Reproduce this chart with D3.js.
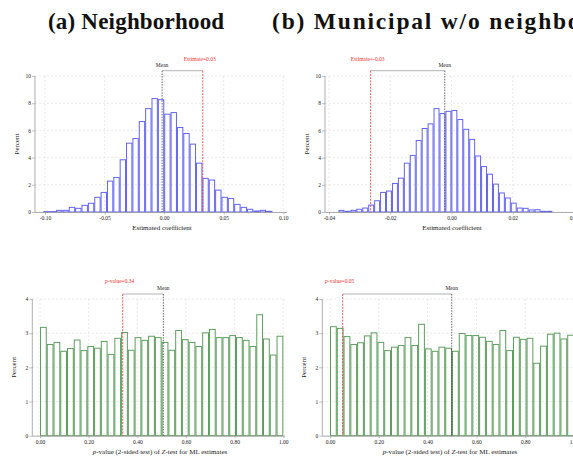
<!DOCTYPE html>
<html><head><meta charset="utf-8">
<script src="https://cdn.jsdelivr.net/npm/d3@7"></script>
<style>body{margin:0;background:#fff}svg{display:block}</style>
</head><body><svg id="c" width="573" height="457"></svg>
<script>
// ---------- DATA ----------
const titles = ["(a) Neighborhood", "(b) Municipal w/o neighborhood"];

// (a) estimated coefficient histogram (percent per bin)
const coefBinStartA = -0.1014, coefBinWidthA = 0.00534;
const coefPercentA = [0.03,0.03,0.12,0.12,0.34,0.27,0.49,0.64,1.08,1.44,2.27,2.54,3.84,5.06,5.40,6.65,7.60,8.34,
  8.26,7.19,7.31,6.21,5.77,4.99,3.59,2.47,2.35,1.61,1.08,1.00,0.56,0.34,0.20,0.07,0.12,0.05];
const coefTicksA = [-0.10,-0.05,0.00,0.05,0.10];
const coefMeanA = -0.0017, coefEstA = 0.0324, coefEstLabelA = "Estimate=0.03";

// (b) estimated coefficient histogram
const coefBinStartB = -0.0369, coefBinWidthB = 0.00194;
const coefPercentB = [0.12,0.05,0.12,0.20,0.29,0.51,0.83,1.44,1.54,2.10,2.49,3.59,4.16,5.26,6.14,6.48,7.60,7.24,
  7.40,7.46,6.80,6.08,5.34,4.12,3.34,2.78,2.05,1.40,1.03,0.65,0.29,0.27,0.15,0.17,0.05,0.05];
const coefTicksB = [-0.04,-0.02,0.00,0.02,0.04];
const coefMeanB = -0.0022, coefEstB = -0.0264, coefEstLabelB = "Estimate=-0.03";

const percentTicksTop = [0,2,4,6,8,10];

// p-value histograms (36 bins on [0,1])
const pBinStart = 0, pBinWidth = 1/36;
const pPercentA = [3.17,2.67,2.73,2.47,2.55,2.80,2.49,2.61,2.56,2.76,2.38,2.85,3.02,2.50,2.87,2.79,2.91,2.87,
  2.73,2.50,3.08,2.81,2.73,2.61,3.01,3.11,2.87,2.87,2.93,2.87,2.79,2.61,3.54,2.83,2.36,2.91];
const pPercentB = [3.19,3.14,2.90,2.67,2.72,2.92,3.01,2.73,2.49,2.59,2.64,2.87,2.64,3.26,2.54,2.47,2.59,2.56,
  2.47,2.99,2.93,2.93,2.88,2.76,2.67,3.08,2.49,2.88,2.82,2.85,2.12,2.62,2.97,3.00,2.83,2.94];
const pTicks = [0.00,0.20,0.40,0.60,0.80,1.00];
const percentTicksBottom = [0,1,2,3,4];
const pMeanA = 0.507, pValA = 0.34, pValLabelA = "p-value=0.34";
const pMeanB = 0.499, pValB = 0.052, pValLabelB = "p-value=0.05";

// ---------- DRAW ----------
const svg = d3.select("#c");
const SERIF = "'Liberation Serif','Times New Roman',serif";

svg.append("text").attr("x",48).attr("y",29).attr("font-family",SERIF)
  .attr("font-weight","bold").attr("font-size",23).attr("letter-spacing",0.2).attr("fill","#111").text(titles[0]);
svg.append("text").attr("x",272).attr("y",29).attr("font-family",SERIF)
  .attr("font-weight","bold").attr("font-size",23.5).attr("letter-spacing",1.8).attr("fill","#111").text(titles[1]);

function panel(cfg){
  const g = svg.append("g");
  const x = d3.scaleLinear().domain(cfg.xDom).range(cfg.xRange);
  const y = d3.scaleLinear().domain(cfg.yDom).range(cfg.yRange);
  const y0 = y(0), yTop = y(cfg.yDom[1]);
  // grid
  g.selectAll(".gy").data(cfg.yTicks).join("line")
    .attr("x1",cfg.axisX).attr("x2",cfg.axisRight).attr("y1",d=>y(d)).attr("y2",d=>y(d))
    .attr("stroke","#e0e0e0").attr("stroke-width",0.7).attr("stroke-dasharray","2,2");
  g.selectAll(".gx").data(cfg.xTicks).join("line")
    .attr("x1",d=>x(d)).attr("x2",d=>x(d)).attr("y1",yTop).attr("y2",y0)
    .attr("stroke","#e0e0e0").attr("stroke-width",0.7).attr("stroke-dasharray","2,2");
  // bars
  g.selectAll(".bar").data(cfg.values).join("rect")
    .attr("x",(d,i)=>x(cfg.binStart+i*cfg.binWidth)+0.5)
    .attr("width",(d,i)=>x(cfg.binStart+(i+1)*cfg.binWidth)-x(cfg.binStart+i*cfg.binWidth)-1)
    .attr("y",d=>y(d)).attr("height",d=>y0-y(d))
    .attr("fill","none").attr("stroke",cfg.color).attr("stroke-width",1);
  // axes
  g.append("line").attr("x1",cfg.axisX).attr("x2",cfg.axisX).attr("y1",yTop).attr("y2",y0)
    .attr("stroke","#999").attr("stroke-width",0.8);
  g.append("line").attr("x1",cfg.axisX).attr("x2",cfg.axisRight).attr("y1",y0+0.5).attr("y2",y0+0.5)
    .attr("stroke","#999").attr("stroke-width",0.8);
  const ay = g.append("g").attr("transform",`translate(${cfg.axisX},0)`)
    .call(d3.axisLeft(y).tickValues(cfg.yTicks).tickSize(3).tickPadding(1).tickFormat(d3.format("d")));
  const ax = g.append("g").attr("transform",`translate(0,${y0+0.5})`)
    .call(d3.axisBottom(x).tickValues(cfg.xTicks).tickSize(2).tickPadding(2).tickFormat(d=>d.toFixed(2)));
  [ay,ax].forEach(a=>{
    a.select(".domain").remove();
    a.selectAll("line").attr("stroke","#999").attr("stroke-width",0.6);
    a.selectAll("text").attr("font-family",SERIF).attr("font-size",5.5).attr("fill","#222");
  });
  // reference lines
  const bY = cfg.bracketY;
  g.append("line").attr("x1",x(cfg.mean)).attr("x2",x(cfg.ref)).attr("y1",bY).attr("y2",bY)
    .attr("stroke","#aaa").attr("stroke-width",0.9);
  g.append("line").attr("x1",x(cfg.mean)).attr("x2",x(cfg.mean)).attr("y1",bY).attr("y2",y0)
    .attr("stroke","#444").attr("stroke-width",0.8).attr("stroke-dasharray","1.5,1.2");
  g.append("line").attr("x1",x(cfg.ref)).attr("x2",x(cfg.ref)).attr("y1",bY).attr("y2",y0)
    .attr("stroke","#f03030").attr("stroke-width",0.8).attr("stroke-dasharray","2,1.2");
  g.append("text").attr("x",x(cfg.mean)).attr("y",cfg.meanLabelY).attr("text-anchor","middle")
    .attr("font-family",SERIF).attr("font-size",5.5).attr("fill","#222").text("Mean");
  const rl = g.append("text").attr("x",x(cfg.ref)-3).attr("y",cfg.refLabelY).attr("text-anchor","middle")
    .attr("font-family",SERIF).attr("font-size",5.5).attr("fill","#f03030");
  if(cfg.italicP){
    rl.append("tspan").attr("font-style","italic").text("p");
    rl.append("tspan").text(cfg.refLabel.slice(1));
  } else rl.text(cfg.refLabel);
  // axis titles
  g.append("text").attr("transform",`translate(${cfg.axisX-16},${(y0+yTop)/2}) rotate(-90)`)
    .attr("text-anchor","middle").attr("font-family",SERIF).attr("font-size",7).attr("fill","#222").text("Percent");
  const xt = g.append("text").attr("x",cfg.xTitleX).attr("y",y0+18).attr("text-anchor","middle")
    .attr("font-family",SERIF).attr("font-size",7).attr("fill","#222");
  if(cfg.italicP){
    xt.append("tspan").attr("font-style","italic").text("p");
    xt.append("tspan").text("-value (2-sided test) of ");
    xt.append("tspan").attr("font-style","italic").text("Z");
    xt.append("tspan").text("-test for ML estimates");
  } else xt.text("Estimated coefficient");
}

panel({xDom:[-0.10,0.10], xRange:[45,283.3], yDom:[0,10], yRange:[212,76], axisX:35, axisRight:287,
  xTicks:coefTicksA, yTicks:percentTicksTop, values:coefPercentA, binStart:coefBinStartA, binWidth:coefBinWidthA,
  color:"#6464f0", mean:coefMeanA, ref:coefEstA, refLabel:coefEstLabelA, bracketY:70.7, meanLabelY:66.5, refLabelY:61,
  xTitleX:162});
panel({xDom:[-0.04,0.04], xRange:[329,574], yDom:[0,10], yRange:[212,76], axisX:325, axisRight:590,
  xTicks:coefTicksB, yTicks:percentTicksTop, values:coefPercentB, binStart:coefBinStartB, binWidth:coefBinWidthB,
  color:"#6464f0", mean:coefMeanB, ref:coefEstB, refLabel:coefEstLabelB, bracketY:70.7, meanLabelY:66.5, refLabelY:61,
  xTitleX:452});
panel({xDom:[0,1], xRange:[40,283.3], yDom:[0,4], yRange:[435.7,299], axisX:32.3, axisRight:285,
  xTicks:pTicks, yTicks:percentTicksBottom, values:pPercentA, binStart:pBinStart, binWidth:pBinWidth,
  color:"#5e9e5e", mean:pMeanA, ref:pValA, refLabel:pValLabelA, bracketY:294, meanLabelY:290, refLabelY:283,
  xTitleX:160, italicP:true});
panel({xDom:[0,1], xRange:[330,574], yDom:[0,4], yRange:[435.7,299], axisX:322.3, axisRight:590,
  xTicks:pTicks, yTicks:percentTicksBottom, values:pPercentB, binStart:pBinStart, binWidth:pBinWidth,
  color:"#5e9e5e", mean:pMeanB, ref:pValB, refLabel:pValLabelB, bracketY:294, meanLabelY:290, refLabelY:283,
  xTitleX:450, italicP:true});
</script></body></html>
